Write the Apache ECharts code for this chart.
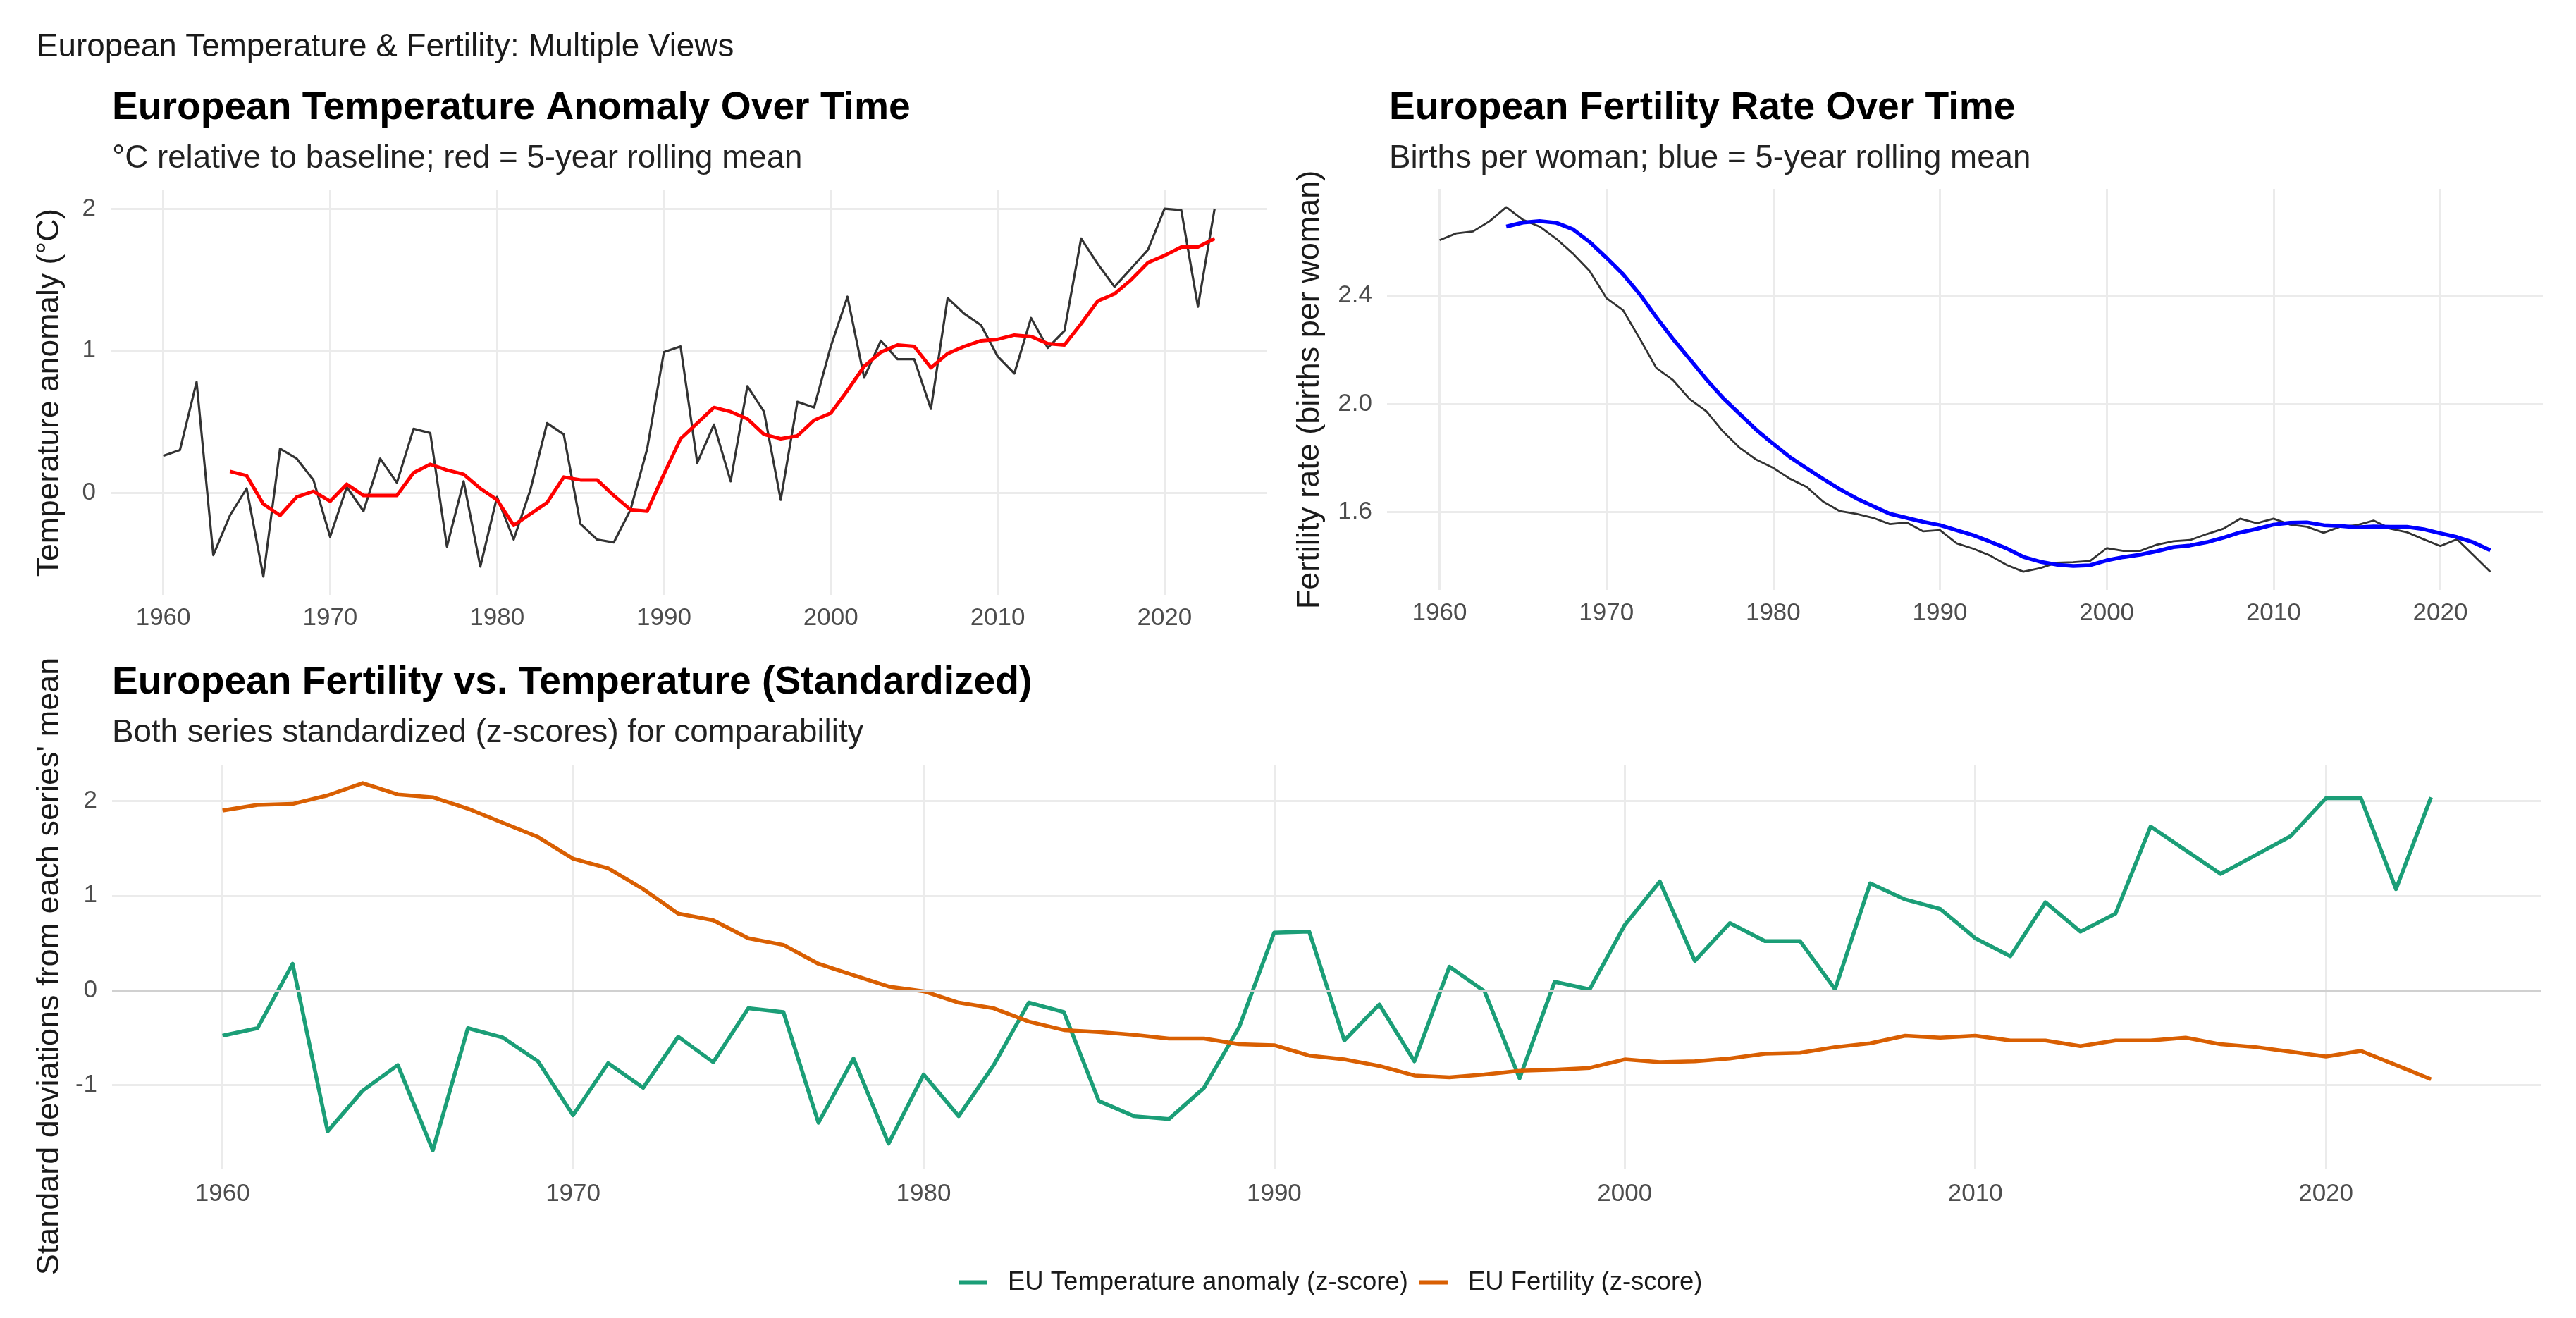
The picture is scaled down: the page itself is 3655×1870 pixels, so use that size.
<!DOCTYPE html>
<html><head><meta charset="utf-8">
<script src="https://cdn.jsdelivr.net/npm/echarts@6/dist/echarts.min.js"></script>
<style>html,body{margin:0;padding:0;background:#fff}#c{width:3655px;height:1870px}</style>
</head><body><div id="c"></div>
<script>
const years = [1960,1961,1962,1963,1964,1965,1966,1967,1968,1969,
  1970,1971,1972,1973,1974,1975,1976,1977,1978,1979,
  1980,1981,1982,1983,1984,1985,1986,1987,1988,1989,
  1990,1991,1992,1993,1994,1995,1996,1997,1998,1999,
  2000,2001,2002,2003,2004,2005,2006,2007,2008,2009,
  2010,2011,2012,2013,2014,2015,2016,2017,2018,2019,
  2020,2021,2022,2023];

const tempAnomaly = [0.26,0.30,0.78,-0.44,-0.16,0.03,-0.59,0.31,0.24,0.09,
  -0.31,0.04,-0.13,0.24,0.07,0.45,0.42,-0.38,0.08,-0.52,
  -0.03,-0.33,0.02,0.49,0.41,-0.22,-0.33,-0.35,-0.12,0.31,
  0.99,1.03,0.21,0.48,0.08,0.75,0.57,-0.05,0.64,0.60,
  1.03,1.38,0.81,1.07,0.94,0.94,0.59,1.37,1.26,1.18,
  0.96,0.84,1.23,1.02,1.14,1.79,1.61,1.45,1.58,1.71,
  2.00,1.99,1.31,2.00];

const tempRolling = [null,null,null,null,0.15,0.12,-0.08,-0.16,-0.03,0.01,
  -0.06,0.06,-0.02,-0.02,-0.02,0.14,0.20,0.16,0.13,0.03,
  -0.05,-0.23,-0.15,-0.07,0.11,0.09,0.09,-0.02,-0.12,-0.13,
  0.13,0.38,0.49,0.60,0.57,0.52,0.41,0.38,0.40,0.51,
  0.56,0.72,0.89,0.99,1.04,1.03,0.88,0.98,1.03,1.07,
  1.08,1.11,1.10,1.05,1.04,1.19,1.35,1.40,1.50,1.62,
  1.67,1.73,1.73,1.79];

const fertility = [2.606,2.631,2.638,2.676,2.728,2.681,2.656,2.611,2.556,2.492,
  2.392,2.347,2.242,2.133,2.088,2.018,1.973,1.898,1.838,1.794,
  1.764,1.724,1.694,1.639,1.604,1.594,1.579,1.556,1.562,1.529,
  1.534,1.485,1.465,1.440,1.405,1.380,1.393,1.413,1.415,1.420,
  1.467,1.457,1.457,1.480,1.493,1.497,1.519,1.539,1.576,1.559,
  1.576,1.554,1.546,1.524,1.546,1.552,1.569,1.539,1.526,1.500,
  1.475,1.500,1.440,1.380];

const fertRolling = [null,null,null,null,2.656,2.671,2.676,2.670,2.646,2.599,
  2.541,2.480,2.406,2.321,2.240,2.166,2.091,2.022,1.963,1.904,
  1.853,1.804,1.763,1.723,1.685,1.651,1.622,1.594,1.579,1.564,
  1.552,1.533,1.515,1.491,1.466,1.435,1.417,1.406,1.401,1.404,
  1.422,1.434,1.443,1.456,1.471,1.477,1.489,1.506,1.525,1.538,
  1.554,1.561,1.562,1.552,1.549,1.544,1.547,1.546,1.546,1.537,
  1.522,1.508,1.488,1.459];

const zTemp = [-0.48,-0.40,0.28,-1.49,-1.06,-0.79,-1.69,-0.40,-0.50,-0.75,
  -1.32,-0.77,-1.03,-0.49,-0.76,-0.19,-0.23,-1.40,-0.72,-1.62,
  -0.89,-1.33,-0.79,-0.13,-0.23,-1.17,-1.33,-1.36,-1.03,-0.39,
  0.61,0.62,-0.53,-0.15,-0.75,0.25,-0.01,-0.93,0.09,0.01,
  0.69,1.15,0.31,0.71,0.52,0.52,0.01,1.13,0.96,0.86,
  0.55,0.36,0.93,0.62,0.81,1.73,1.48,1.23,1.43,1.63,
  2.03,2.03,1.07,2.04];

const zFert = [1.90,1.96,1.97,2.06,2.19,2.07,2.04,1.92,1.77,1.62,
  1.39,1.29,1.07,0.81,0.74,0.55,0.48,0.28,0.16,0.04,
  -0.01,-0.13,-0.19,-0.33,-0.42,-0.44,-0.47,-0.51,-0.51,-0.57,
  -0.58,-0.69,-0.73,-0.80,-0.90,-0.92,-0.89,-0.85,-0.84,-0.82,
  -0.73,-0.76,-0.75,-0.72,-0.67,-0.66,-0.60,-0.56,-0.48,-0.50,
  -0.48,-0.53,-0.53,-0.59,-0.53,-0.53,-0.50,-0.57,-0.60,-0.65,
  -0.70,-0.64,-0.79,-0.94];

const xTicks = [1960,1970,1980,1990,2000,2010,2020];
const yTicksTemp = [0,1,2];
const yTicksFert = [1.6,2.0,2.4];
const yTicksZ = [-1,0,1,2];

const seriesNames = ['EU Temperature anomaly (z-score)','EU Fertility (z-score)'];

const FONT = "'Liberation Sans', Arial, sans-serif";
const pairs = arr => years.map((y,i)=>[y, arr[i]]);
const GRID = '#EBEBEB';

function xAxis(gridIndex, margin){
  return {type:'value', gridIndex, min:1956.85, max:2026.15,
    axisLine:{show:false}, axisTick:{show:false, customValues:xTicks},
    axisLabel:{customValues:xTicks, color:'#4D4D4D', fontSize:35, fontFamily:FONT, margin, formatter:v=>String(v)},
    splitLine:{show:true, lineStyle:{color:GRID, width:3}}};
}
function yAxis(gridIndex, min, max, ticks, fmt){
  return {type:'value', gridIndex, min, max,
    axisLine:{show:false}, axisTick:{show:false, customValues:ticks},
    axisLabel:{customValues:ticks, color:'#4D4D4D', fontSize:35, fontFamily:FONT, margin:21, formatter:fmt},
    splitLine:{show:true, lineStyle:{color:GRID, width:3}}};
}
function lineSeries(name, data, xi, color, width){
  return {name, type:'line', xAxisIndex:xi, yAxisIndex:xi, data, showSymbol:false, symbol:'none',
    connectNulls:false, silent:true, animation:false,
    lineStyle:{color, width, join:'round', cap:'butt'}, itemStyle:{color}};
}
function txt(x, y, text, size, weight, color, rot){
  const el = {type:'text', x, y, silent:true,
    style:{text, font:(weight||'normal')+' '+size+'px '+FONT, fill:color||'#000', align: rot?'center':'left', verticalAlign:'middle'}};
  if (rot) el.rotation = Math.PI/2;
  return el;
}

const chart = echarts.init(document.getElementById('c'), null, {renderer:'canvas'});
const zSeries = lineSeries(seriesNames[0], pairs(zTemp), 2, '#1B9E77', 5.5);
zSeries.markLine = {silent:true, symbol:'none', label:{show:false}, animation:false,
  lineStyle:{color:'#D0D0D0', width:3, type:'solid'}, data:[{yAxis:0}]};
chart.setOption({
  backgroundColor:'#FFFFFF',
  animation:false,
  grid:[
    {left:157, top:270, width:1641, height:574},
    {left:1968, top:268, width:1640, height:569},
    {left:159, top:1085, width:3447, height:573}
  ],
  xAxis:[xAxis(0,16), xAxis(1,16), xAxis(2,19)],
  yAxis:[
    yAxis(0,-0.7195,2.1295,yTicksTemp,v=>String(v)),
    yAxis(1,1.3126,2.7954,yTicksFert,v=>v.toFixed(1)),
    yAxis(2,-1.884,2.384,yTicksZ,v=>String(v))
  ],
  legend:{show:true, left:1356, top:1796, orient:'horizontal', icon:'rect', itemWidth:40, itemHeight:6, itemGap:16,
    data:seriesNames, selectedMode:false,
    textStyle:{fontSize:36.5, fontFamily:FONT, color:'#1A1A1A', padding:[0,0,0,24]}},
  series:[
    lineSeries('temp', pairs(tempAnomaly), 0, '#333333', 3.2),
    lineSeries('tempRoll', pairs(tempRolling), 0, '#FF0000', 5),
    lineSeries('fert', pairs(fertility), 1, '#333333', 2.8),
    lineSeries('fertRoll', pairs(fertRolling), 1, '#0000FF', 5.5),
    zSeries,
    lineSeries(seriesNames[1], pairs(zFert), 2, '#D95F02', 5.5)
  ],
  graphic:[
    txt(52, 67, 'European Temperature & Fertility: Multiple Views', 45.8, 'normal', '#1A1A1A'),
    txt(159, 154, 'European Temperature Anomaly Over Time', 55.2, 'bold', '#000'),
    txt(159, 225, '°C relative to baseline; red = 5-year rolling mean', 45.7, 'normal', '#222'),
    txt(1971, 154, 'European Fertility Rate Over Time', 55.2, 'bold', '#000'),
    txt(1971, 225, 'Births per woman; blue = 5-year rolling mean', 45.7, 'normal', '#222'),
    txt(159, 969, 'European Fertility vs. Temperature (Standardized)', 55.2, 'bold', '#000'),
    txt(159, 1040, 'Both series standardized (z-scores) for comparability', 45.7, 'normal', '#222'),
    txt(71, 557, 'Temperature anomaly (°C)', 44.5, 'normal', '#1A1A1A', true),
    txt(1859, 553, 'Fertility rate (births per woman)', 45, 'normal', '#1A1A1A', true),
    txt(71, 1371, "Standard deviations from each series' mean", 45, 'normal', '#1A1A1A', true)
  ]
});
</script></body></html>
